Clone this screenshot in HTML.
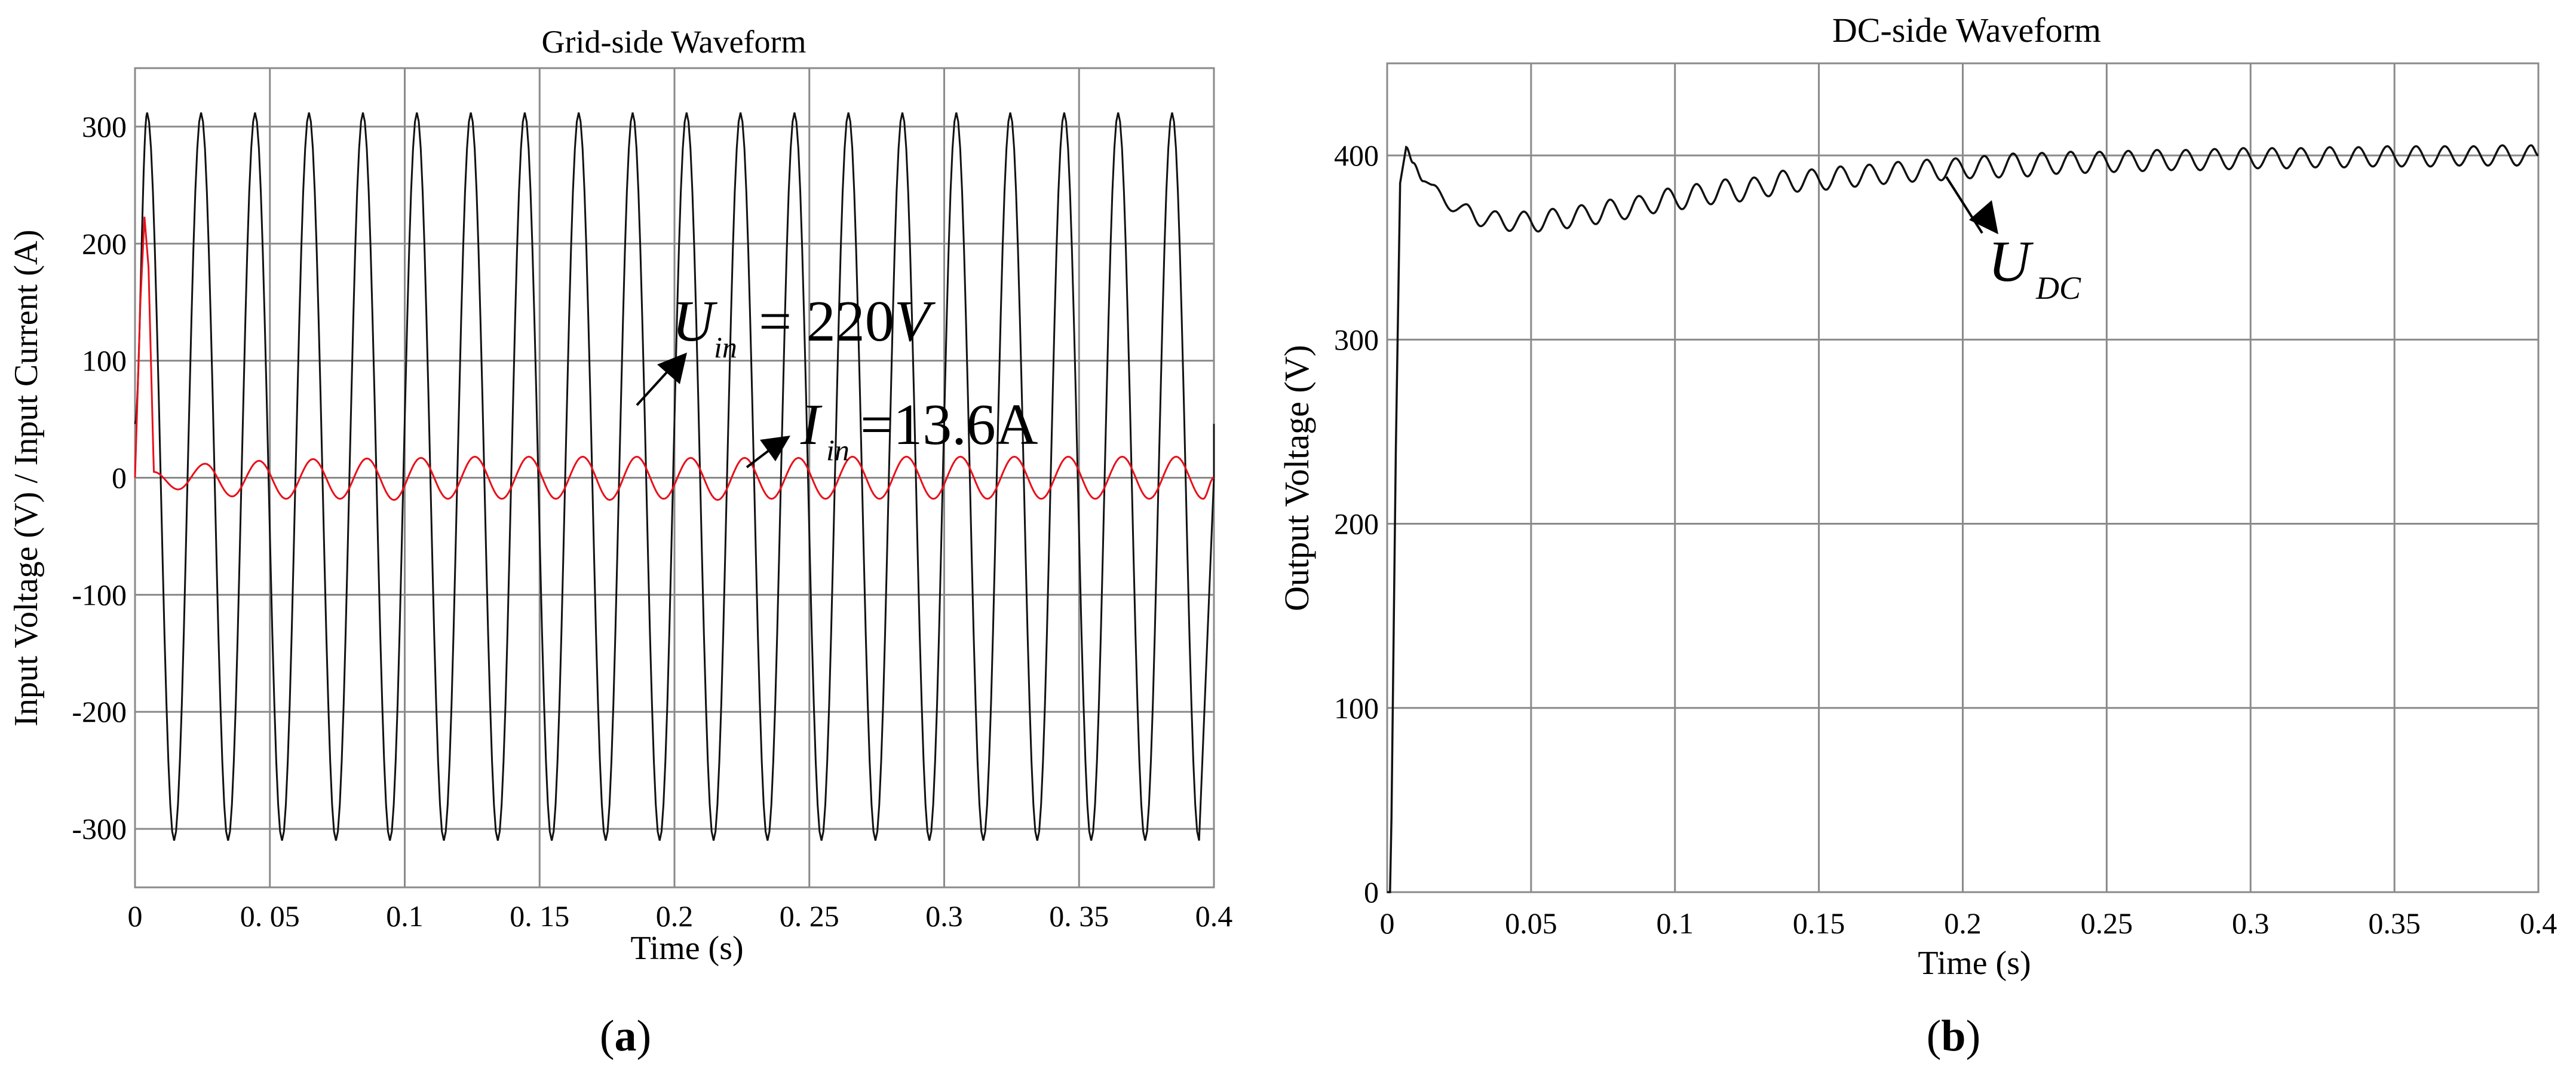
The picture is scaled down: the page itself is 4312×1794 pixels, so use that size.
<!DOCTYPE html>
<html><head><meta charset="utf-8"><style>
html,body{margin:0;padding:0;background:#fff;}
svg{display:block;font-family:"Liberation Serif",serif;}
</style></head><body>
<svg id="fig" width="4312" height="1794" viewBox="0 0 4312 1794" xmlns="http://www.w3.org/2000/svg">
<rect x="0" y="0" width="4312" height="1794" fill="#fff"/>
<g id="chartA"></g>
<g id="chartB"></g>

<text x="1128" y="88" font-size="54" text-anchor="middle">Grid-side Waveform</text>
<text x="1150" y="1605" font-size="56" text-anchor="middle">Time (s)</text>
<text transform="translate(62,800) rotate(-90)" font-size="56" text-anchor="middle">Input Voltage (V) / Input Current (A)</text>
<text x="1047" y="1758" font-size="74" text-anchor="middle">(<tspan font-weight="bold">a</tspan>)</text>

<text x="3292" y="70" font-size="58" text-anchor="middle">DC-side Waveform</text>
<text x="3305" y="1630" font-size="56" text-anchor="middle">Time (s)</text>
<text transform="translate(2190,800) rotate(-90)" font-size="58" text-anchor="middle">Output Voltage (V)</text>
<text x="3270" y="1758" font-size="74" text-anchor="middle">(<tspan font-weight="bold">b</tspan>)</text>

<g>
<text x="1125" y="570" font-size="98" font-style="italic">U</text>
<text x="1195" y="598" font-size="50" font-style="italic">in</text>
<text x="1270" y="570" font-size="98">= 220<tspan font-style="italic">V</tspan></text>
<line x1="1066" y1="678" x2="1128" y2="610" stroke="#000" stroke-width="4"/>
<polygon points="1150,590 1100,610 1138,643" fill="#000"/>
</g>
<g>
<text x="1340" y="743" font-size="98" font-style="italic">I</text>
<text x="1383" y="770" font-size="50" font-style="italic">in</text>
<text x="1440" y="743" font-size="98">=13.6A</text>
<line x1="1250" y1="782" x2="1300" y2="744" stroke="#000" stroke-width="4"/>
<polygon points="1323,729 1272,736 1298,772" fill="#000"/>
</g>
<g>
<text x="3328" y="470" font-size="98" font-style="italic">U</text>
<text x="3408" y="500" font-size="54" font-style="italic">DC</text>
<line x1="3258" y1="296" x2="3318" y2="390" stroke="#000" stroke-width="4"/>
<polygon points="3345,392 3334,335 3296,368" fill="#000"/>
</g>
</svg>
<script>
// ---- Chart A data (Grid-side) ----
const xTicksA = [0, 0.05, 0.1, 0.15, 0.2, 0.25, 0.3, 0.35, 0.4];
const xTickLabelsA = ["0", "0. 05", "0.1", "0. 15", "0.2", "0. 25", "0.3", "0. 35", "0.4"];
const yTicksA = [300, 200, 100, 0, -100, -200, -300];
const yTickLabelsA = ["300", "200", "100", "0", "-100", "-200", "-300"];
const voltStart = [0, 46];
const voltPeaks = [312,312,312,312,312,312,312,312,312,312,312,312,312,312,312,312,312,312,312,312];
const voltTroughs = [-310,-310,-310,-310,-310,-310,-310,-310,-310,-310,-310,-310,-310,-310,-310,-310,-310,-310,-310,-310];
const voltEnd = [0.4, 0, 46];
const currTransientT = [0, 0.002, 0.0035, 0.005, 0.0068, 0.007];
const currTransientV = [0, 150, 223, 180, 20, 5];
const currTroughs = [-10,-16,-18,-18,-19,-18,-18,-18,-19,-18,-19,-18,-18,-18,-18,-18,-18,-18,-18,-18];
const currPeaks = [12,14.5,16,16.5,17,18,18,18,18,17,17,17,18,18,18,18,18,18,18];
const currEnd = [0.4, 0];

// ---- Chart B data (DC-side) ----
const xTicksB = [0, 0.05, 0.1, 0.15, 0.2, 0.25, 0.3, 0.35, 0.4];
const xTickLabelsB = ["0", "0.05", "0.1", "0.15", "0.2", "0.25", "0.3", "0.35", "0.4"];
const yTicksB = [0, 100, 200, 300, 400];
const yTickLabelsB = ["0", "100", "200", "300", "400"];
const dcStartT = [0, 0.001, 0.0015, 0.003, 0.0045, 0.0066, 0.009, 0.0125, 0.016, 0.0228];
const dcStartV = [0, 0, 40, 240, 385, 404.5, 396, 386, 384, 369.7];
const dcPeaks = [373.5,369.7,369.5,371,373,376,378,382,384.5,387,388,391.7,392.4,394,395,396.5,397.7,398.4,399.7,401,401.4,402,402,402.5,403,403,403.5,404,404,404,404.5,404.5,405,405,405,405,405.5,405.5];
const dcTroughs = [361.6,359,358.7,360.5,362.7,365.4,368.6,370.8,373.5,375,377.8,380.3,381.4,383,384.5,385.7,386.5,387.6,388,388.6,390,390.5,391,391.5,392,392,392.5,393,393,393.5,393.5,394,394,394,394.5,394.5,394.5];
const dcEnd = [0.4, 400];

const NS = "http://www.w3.org/2000/svg";
function mk(tag, parent, attrs){const e=document.createElementNS(NS,tag);for(const k in attrs)e.setAttribute(k,attrs[k]);parent.appendChild(e);return e;}

function axes(g, box, xd, yd){
  const sx = v => box.x0 + (v - xd[0]) / (xd[1] - xd[0]) * (box.x1 - box.x0);
  const sy = v => box.y1 - (v - yd[0]) / (yd[1] - yd[0]) * (box.y1 - box.y0);
  return {sx, sy};
}

function smoothPath(pts, sx, sy){
  let d = "M" + sx(pts[0][0]).toFixed(1) + "," + sy(pts[0][1]).toFixed(1);
  for (let i = 1; i < pts.length; i++){
    const [t0, v0] = pts[i-1], [t1, v1] = pts[i];
    const n = 14;
    for (let j = 1; j <= n; j++){
      const f = j / n, w = (1 - Math.cos(Math.PI * f)) / 2;
      d += "L" + sx(t0 + (t1 - t0) * f).toFixed(1) + "," + sy(v0 + (v1 - v0) * w).toFixed(1);
    }
  }
  return d;
}

function drawFrame(g, box, s, xTicks, xLabels, yTicks, yLabels, xLabY, yLabX, name){
  for (const t of yTicks){
    const gl = mk("line", g, {x1:box.x0, x2:box.x1, y1:s.sy(t), y2:s.sy(t), stroke:"#8a8a8a", "stroke-width":3});
    
    
  }
  for (const t of xTicks){
    const gl = mk("line", g, {y1:box.y0, y2:box.y1, x1:s.sx(t), x2:s.sx(t), stroke:"#8a8a8a", "stroke-width":3});
    
    
  }
  const fr = mk("rect", g, {x:box.x0, y:box.y0, width:box.x1-box.x0, height:box.y1-box.y0, fill:"none", stroke:"#8a8a8a", "stroke-width":3});
  
  
  xTicks.forEach((t, i) => {
    const tx = mk("text", g, {x:s.sx(t), y:xLabY, "font-size":50, "text-anchor":"middle"});
    tx.textContent = xLabels[i];
    
    
  });
  yTicks.forEach((t, i) => {
    const tx = mk("text", g, {x:yLabX, y:s.sy(t) + 17, "font-size":50, "text-anchor":"end"});
    tx.textContent = yLabels[i];
    
    
  });
}

(function(){
  const g = document.getElementById("chartA");
  const box = {x0:226, x1:2032, y0:114, y1:1485};
  const s = axes(g, box, [0, 0.4], [-350, 350]);
  drawFrame(g, box, s, xTicksA, xTickLabelsA, yTicksA, yTickLabelsA, 1550, 212, "grid");
  const vp = [[voltStart[0], voltStart[1]]];
  for (let k = 0; k < voltPeaks.length; k++){
    vp.push([0.0045 + 0.02*k, voltPeaks[k]]);
    if (k < voltTroughs.length) vp.push([0.0145 + 0.02*k, voltTroughs[k]]);
  }
  let d = smoothPath(vp, s.sx, s.sy);
  d += "L" + s.sx(voltEnd[0]).toFixed(1) + "," + s.sy(voltEnd[1]).toFixed(1) + "L" + s.sx(voltEnd[0]).toFixed(1) + "," + s.sy(voltEnd[2]).toFixed(1);
  const vl = mk("path", g, {d:d, fill:"none", stroke:"#111", "stroke-width":3});
  
  
  let cd = "";
  currTransientT.forEach((t, i) => { cd += (i ? "L" : "M") + s.sx(t).toFixed(1) + "," + s.sy(currTransientV[i]).toFixed(1); });
  const cp = [[currTransientT[currTransientT.length-1], currTransientV[currTransientV.length-1]]];
  for (let k = 0; k < currTroughs.length; k++){
    cp.push([0.016 + 0.02*k, currTroughs[k]]);
    if (k < currPeaks.length) cp.push([0.026 + 0.02*k, currPeaks[k]]);
  }
  cp.push([currEnd[0], currEnd[1]]);
  cd += smoothPath(cp, s.sx, s.sy).replace(/^M/, "L");
  const cl = mk("path", g, {d:cd, fill:"none", stroke:"#e8101a", "stroke-width":3});
  
  
})();

(function(){
  const g = document.getElementById("chartB");
  const box = {x0:2322, x1:4249, y0:106, y1:1493};
  const s = axes(g, box, [0, 0.4], [0, 450]);
  drawFrame(g, box, s, xTicksB, xTickLabelsB, yTicksB, yTickLabelsB, 1562, 2308, "dc");
  const pts = dcStartT.map((t, i) => [t, dcStartV[i]]);
  for (let k = 0; k < dcPeaks.length; k++){
    pts.push([0.0275 + 0.01*k, dcPeaks[k]]);
    if (k < dcTroughs.length) pts.push([0.0325 + 0.01*k, dcTroughs[k]]);
  }
  pts.push([dcEnd[0], dcEnd[1]]);
  let d = "";
  const nStart = 6;
  for (let i = 0; i < nStart; i++) d += (i ? "L" : "M") + s.sx(pts[i][0]).toFixed(1) + "," + s.sy(pts[i][1]).toFixed(1);
  d += smoothPath(pts.slice(nStart - 1), s.sx, s.sy).replace(/^M/, "L");
  const l = mk("path", g, {d:d, fill:"none", stroke:"#111", "stroke-width":3.5});
  
  
})();
</script>
</body></html>
